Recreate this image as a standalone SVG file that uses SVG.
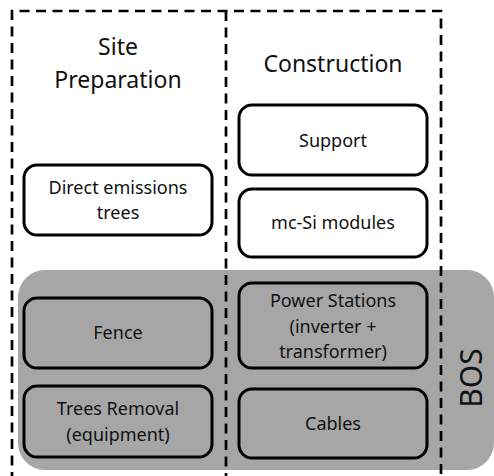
<svg xmlns="http://www.w3.org/2000/svg" width="494" height="476" viewBox="0 0 494 476">
<style>
.t{font-family:"Noto Sans","Open Sans",sans-serif;fill:#111;text-anchor:middle}
.h{font-size:23px}
.b{font-size:18px}
.box{stroke:#000;stroke-width:3;}
.dash{fill:none;stroke:#000;stroke-width:2.7;stroke-dasharray:10 6.5}
</style>
<rect width="494" height="476" fill="#fff"/>
<g id="bos">
<rect x="18" y="270" width="476" height="200" rx="27" fill="#a6a6a6"/>
<text class="t" font-size="30" transform="translate(482,378) rotate(-90)">BOS</text>
</g>
<g id="frame">
<path class="dash" d="M12,482 V11 H441 V482"/>
<path class="dash" d="M226,11 V482"/>
</g>
<g id="site-preparation">
<text class="t h" x="118" y="55">Site</text>
<text class="t h" x="118" y="88">Preparation</text>
</g>
<g id="construction">
<text class="t h" x="333" y="72">Construction</text>
</g>
<g id="support">
<rect class="box" x="239" y="105" width="188" height="70" rx="13" fill="#fff"/>
<text class="t b" x="333" y="147">Support</text>
</g>
<g id="modules">
<rect class="box" x="239" y="189" width="188" height="68" rx="13" fill="#fff"/>
<text class="t b" x="333" y="229">mc-Si modules</text>
</g>
<g id="direct-emissions">
<rect class="box" x="24" y="165" width="188" height="70" rx="13" fill="#fff"/>
<text class="t b" x="118" y="194">Direct emissions</text>
<text class="t b" x="118" y="219">trees</text>
</g>
<g id="fence">
<rect class="box" x="24" y="298" width="188" height="70" rx="13" fill="none"/>
<text class="t b" x="118" y="339">Fence</text>
</g>
<g id="trees-removal">
<rect class="box" x="24" y="386" width="188" height="71" rx="13" fill="none"/>
<text class="t b" x="118" y="415">Trees Removal</text>
<text class="t b" x="118" y="441">(equipment)</text>
</g>
<g id="power-stations">
<rect class="box" x="239" y="283" width="188" height="85" rx="13" fill="none"/>
<text class="t b" x="333" y="307">Power Stations</text>
<text class="t b" x="333" y="333">(inverter +</text>
<text class="t b" x="333" y="358">transformer)</text>
</g>
<g id="cables">
<rect class="box" x="239" y="389" width="188" height="69" rx="13" fill="none"/>
<text class="t b" x="333" y="430">Cables</text>
</g>
<g id="connectors"></g>
</svg>
